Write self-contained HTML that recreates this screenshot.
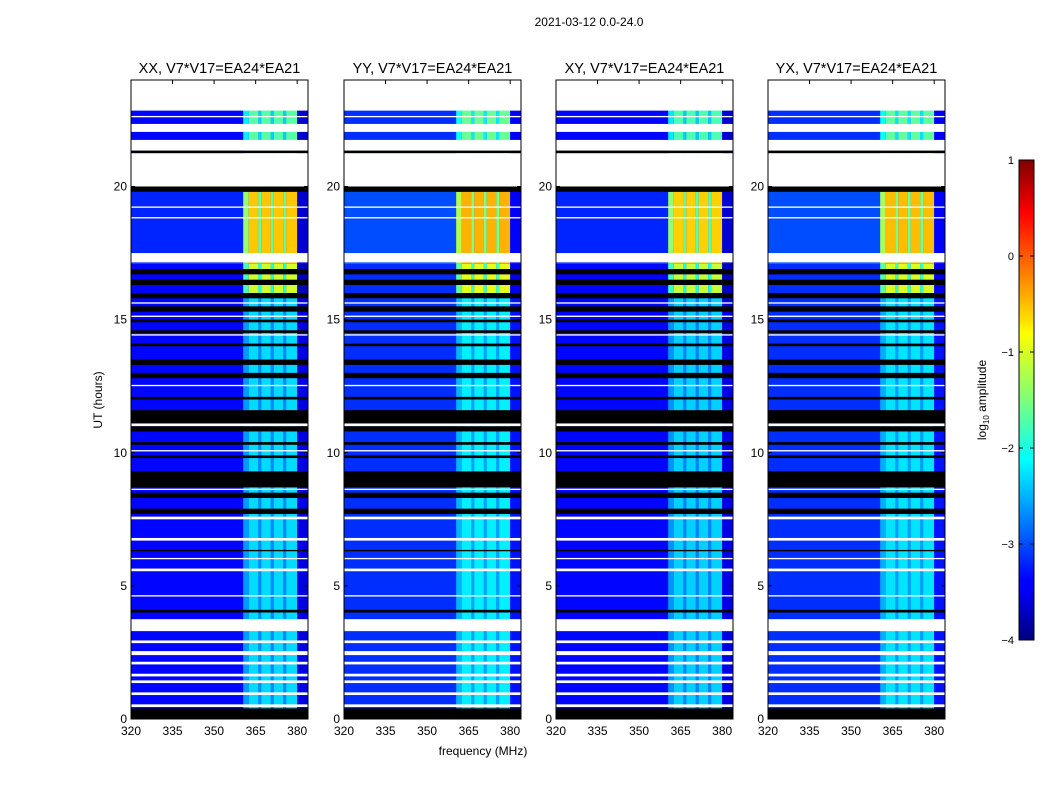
<!DOCTYPE html>
<html><head><meta charset="utf-8">
<style>
body{margin:0;background:#fff;font-family:"Liberation Sans",sans-serif;}
svg text{font-family:"Liberation Sans",sans-serif;fill:#000;}
</style></head>
<body>
<svg id="chart" width="1050" height="800" xmlns="http://www.w3.org/2000/svg">
<rect width="1050" height="800" fill="#fff"/>
<text x="589" y="26" font-size="12" text-anchor="middle">2021-03-12 0.0-24.0</text>
<text x="483" y="755" font-size="12" text-anchor="middle">frequency (MHz)</text>
<text transform="translate(102,400) rotate(-90)" font-size="12" text-anchor="middle">UT (hours)</text>
<defs><linearGradient id="jet" x1="0" y1="1" x2="0" y2="0">
<stop offset="0" stop-color="#00007f"/><stop offset="0.11" stop-color="#0000ff"/><stop offset="0.125" stop-color="#0000ff"/><stop offset="0.34" stop-color="#00dcff"/><stop offset="0.375" stop-color="#00ffff"/><stop offset="0.5" stop-color="#7dff7a"/><stop offset="0.64" stop-color="#ffff00"/><stop offset="0.66" stop-color="#ffe600"/><stop offset="0.89" stop-color="#ff0000"/><stop offset="1" stop-color="#7f0000"/>
</linearGradient></defs>
<g id="panels"></g>
<g>
<rect x="1019" y="160" width="15" height="480" fill="url(#jet)" stroke="#000" stroke-width="1"/>
<g id="cbticks"></g>
<text transform="translate(986,400) rotate(-90)" font-size="12" text-anchor="middle">log<tspan font-size="8" dy="3">10</tspan><tspan dy="-3"> amplitude</tspan></text>
</g>
</svg>
<script>
const titles=["XX, V7*V17=EA24*EA21","YY, V7*V17=EA24*EA21","XY, V7*V17=EA24*EA21","YX, V7*V17=EA24*EA21"];
const panelLeft=[131,344,556,768];
const xTicks=[320,335,350,365,380];
const yTicks=[0,5,10,15,20];
const cbTicks=[1,0,-1,-2,-3,-4];
const gaps=[[0.45,0.55],[0.9,1.0],[1.35,1.45],[1.6,1.7],[2.05,2.15],[2.4,2.55],[2.85,2.95],[3.3,3.75],[4.6,4.65],[5.55,5.65],[6.0,6.05],[6.7,6.8],[7.5,7.6],[8.6,8.65],[10.05,10.1],[11.0,11.1],[12.5,12.55],[14.4,14.45],[15.1,15.15],[15.6,15.65],[17.15,17.5],[18.8,18.85],[19.2,19.25],[20.0,21.25],[21.35,21.75],[22.05,22.35],[22.6,22.65],[22.85,24]];
const flags=[[0,0.4],[4.0,4.1],[6.3,6.35],[7.7,7.9],[8.3,8.5],[8.7,9.3],[9.8,9.9],[10.3,10.4],[10.8,11.0],[11.1,11.6],[12.0,12.1],[12.8,13.0],[13.3,13.5],[14.0,14.1],[14.5,14.6],[14.9,15.0],[15.3,15.5],[15.8,16.0],[16.3,16.5],[16.7,16.9],[19.8,20.0],[21.25,21.35]];
const boostTimes=[[0,16.0],[16.0,17.1],[17.1,19.8],[19.8,24]];
const boostLevels=[-2.3,-1.1,-0.6,-1.7];
const baseLevels=[-3.35,-3.15,-3.35,-3.15];
const freqBands=[[360.5,362.5],[362.5,366],[366,367],[367,370.5],[370.5,371.5],[371.5,375],[375,376],[376,380],[380,383.9]];
const freqWeights=[0.7,1,0.6,1,0.6,1,0.6,1,-0.15];
const panelBoost=[0,0.1,-0.05,0.05];

const NS="http://www.w3.org/2000/svg";
const W=177,TOP=80,BOT=719,X0=320,X1=383.9,T0=0,T1=24;
function sx(f,l){return l+(f-X0)/(X1-X0)*W;}
function sy(t){return BOT-(t-T0)/(T1-T0)*(BOT-TOP);}
function jet(v){let x=(v+4)/5;x=Math.max(0,Math.min(1,x));
 const r=Math.max(0,Math.min(1,1.5-Math.abs(4*x-3))),g=Math.max(0,Math.min(1,1.5-Math.abs(4*x-2))),b=Math.max(0,Math.min(1,1.5-Math.abs(4*x-1)));
 return `rgb(${Math.round(r*255)},${Math.round(g*255)},${Math.round(b*255)})`;}
function mk(tag,attrs,parent){const e=document.createElementNS(NS,tag);for(const k in attrs)e.setAttribute(k,attrs[k]);parent.appendChild(e);return e;}
const root=document.getElementById('panels');
for(let p=0;p<4;p++){
 const L=panelLeft[p];
 const g=mk('g',{},root);
 
 
 for(let i=0;i<boostTimes.length;i++){
  const [a,b]=boostTimes[i];
  const base=baseLevels[p]+(i==2?0.15:0);
  const r=mk('rect',{x:L,y:sy(b),width:W,height:sy(a)-sy(b),fill:jet(base)},g);
  
  
  for(let j=0;j<freqBands.length;j++){
   const [f0,f1]=freqBands[j];
   const v=base+freqWeights[j]*(boostLevels[i]+panelBoost[p]-base);
   const c=mk('rect',{x:sx(f0,L),y:sy(b),width:sx(f1,L)-sx(f0,L),height:sy(a)-sy(b),fill:jet(v)},g);
   
   
  }
 }
 for(const [a,b] of flags){const r=mk('rect',{x:L,y:sy(b),width:W,height:sy(a)-sy(b),fill:'#000'},g);
  
  }
 for(const [a,b] of gaps){const r=mk('rect',{x:L,y:sy(b),width:W,height:sy(a)-sy(b),fill:'#fff'},g);
  
  }
 const fr=mk('rect',{x:L,y:TOP,width:W,height:BOT-TOP,fill:'none',stroke:'#000','stroke-width':1},g);
 
 
 const t=mk('text',{x:L+W/2,y:TOP-7,'font-size':14.5,'text-anchor':'middle'},g);t.textContent=titles[p];
 
 
 for(const f of xTicks){const x=sx(f,L);
  mk('line',{x1:x,x2:x,y1:BOT,y2:BOT-4,stroke:'#000'},g);mk('line',{x1:x,x2:x,y1:TOP,y2:TOP+4,stroke:'#000'},g);
  const tt=mk('text',{x:x,y:BOT+16,'font-size':12,'text-anchor':'middle'},g);tt.textContent=f;
  
  }
 for(const h of yTicks){const y=sy(h);
  mk('line',{x1:L,x2:L+4,y1:y,y2:y,stroke:'#000'},g);mk('line',{x1:L+W,x2:L+W-4,y1:y,y2:y,stroke:'#000'},g);
  const tt=mk('text',{x:L-4,y:y+4,'font-size':12,'text-anchor':'end'},g);tt.textContent=h;
  
  }
}
const cb=document.getElementById('cbticks');
for(const v of cbTicks){const y=160+(1-v)/5*480;
 mk('line',{x1:1019,x2:1023,y1:y,y2:y,stroke:'#000'},cb);mk('line',{x1:1034,x2:1030,y1:y,y2:y,stroke:'#000'},cb);
 const tt=mk('text',{x:1014,y:y+4,'font-size':11,'text-anchor':'end'},cb);tt.textContent=(v<0?'\u2212':'')+Math.abs(v);
 
 }
</script>
</body></html>
